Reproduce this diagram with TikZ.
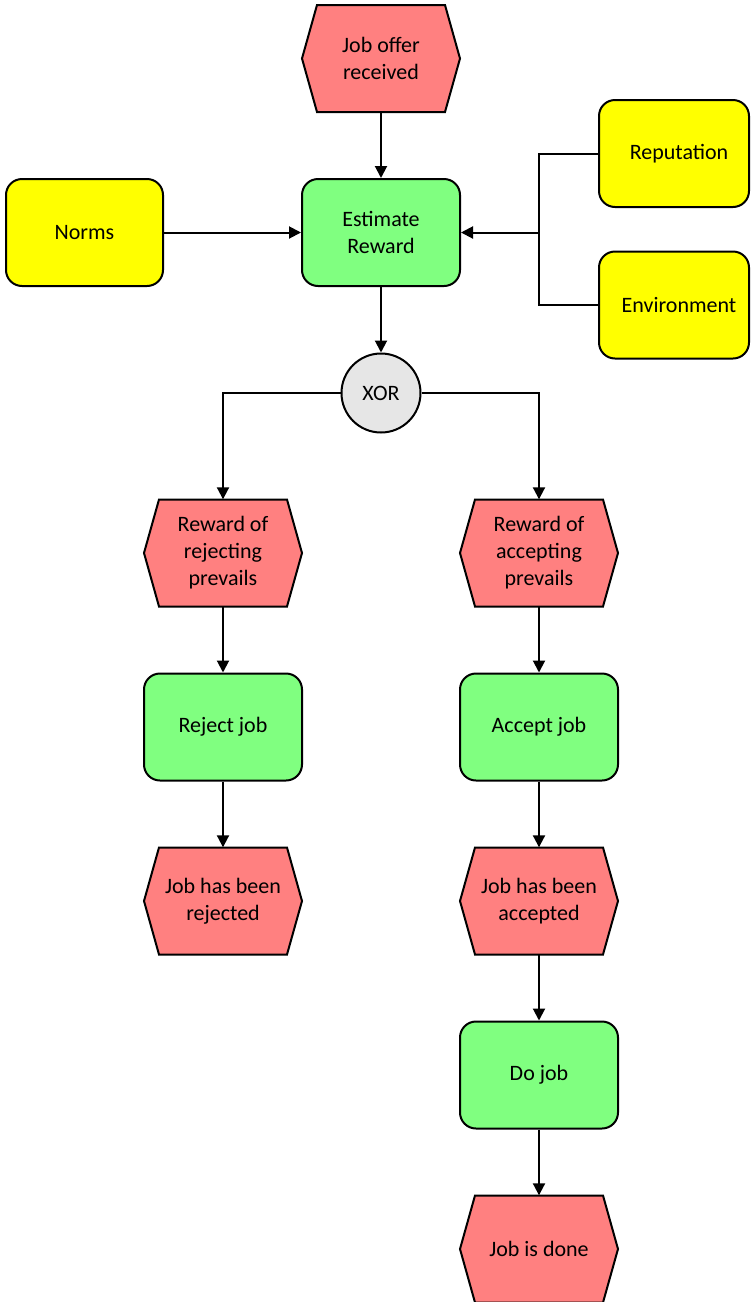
\documentclass[tikz,border=0pt]{standalone}
\usepackage{fontspec}
\setmainfont{Carlito}
\usetikzlibrary{arrows.meta}
\definecolor{evred}{HTML}{FF8080}
\definecolor{fngreen}{HTML}{80FF80}
\definecolor{resyellow}{HTML}{FFFF00}
\definecolor{opgray}{HTML}{E6E6E6}
\tikzset{
  outline/.style={draw=black, line width=2pt},
  boxtext/.style={font=\fontsize{22}{27}\selectfont, align=center, inner sep=0pt},
  evtextnode/.style={boxtext, rectangle, minimum width=158pt, minimum height=107pt},
  hexfill/.style={outline, fill=evred, line join=miter},
  func/.style={boxtext, outline, fill=fngreen, rounded corners=16pt,
    minimum width=158pt, minimum height=107pt},
  res/.style={boxtext, outline, fill=resyellow, rounded corners=16pt,
    minimum width=150pt, minimum height=107pt},
  xor/.style={boxtext, outline, fill=opgray, circle, minimum size=79pt},
  flow/.style={line width=2pt, -{Triangle[length=12pt,width=12pt]}},
  link/.style={line width=2pt},
}
% event: hexagon drawn first, then a named text node of the same frame
\newcommand\eventnode[4]{%
  \path[hexfill] (#2,#3) ++(-79,0) -- ++(15,-53.5) -- ++(128,0) -- ++(15,53.5)
    -- ++(-15,53.5) -- ++(-128,0) -- cycle;
  \node[evtextnode] (#1) at (#2,#3) {#4};
}
\begin{document}
\begin{tikzpicture}[x=1pt, y=-1pt]
\useasboundingbox (0,0) rectangle (751,1302);

% events
\eventnode{offer}{381}{58.5}{Job offer\\received}
\eventnode{rewrej}{223}{553}{Reward of\\rejecting\\prevails}
\eventnode{rewacc}{539}{553}{Reward of\\accepting\\prevails}
\eventnode{rejected}{223}{901}{Job has been\\rejected}
\eventnode{accepted}{539}{901}{Job has been\\accepted}
\eventnode{done}{539}{1249}{Job is done}

% functions
\node[func] (estimate) at (381,232.5) {Estimate\\Reward};
\node[func] (reject) at (223,727) {Reject job};
\node[func] (accept) at (539,727) {Accept job};
\node[func] (dojob) at (539,1075) {Do job};

% resources
\node[res, minimum width=157pt] (norms) at (84.5,232.5) {Norms};
\node[res] (reputation) at (674,153.5) {\hspace*{10pt}Reputation};
\node[res] (environment) at (674,305) {\hspace*{10pt}Environment};

% operator
\node[xor] (xor) at (381,393) {XOR};

% junction of the two resources
\coordinate (join) at (539,232.5);

% connectors
\draw[flow] (offer) -- (estimate);
\draw[flow] (norms) -- (estimate);
\draw[link] (reputation.west) -| (join);
\draw[link] (environment.west) -| (join);
\draw[flow] (join) -- (estimate.east);
\draw[flow] (estimate) -- (xor);
\draw[flow] (xor.west) -| (rewrej.north);
\draw[flow] (xor.east) -| (rewacc.north);
\draw[flow] (rewrej) -- (reject);
\draw[flow] (reject) -- (rejected);
\draw[flow] (rewacc) -- (accept);
\draw[flow] (accept) -- (accepted);
\draw[flow] (accepted) -- (dojob);
\draw[flow] (dojob) -- (done);
\end{tikzpicture}
\end{document}
